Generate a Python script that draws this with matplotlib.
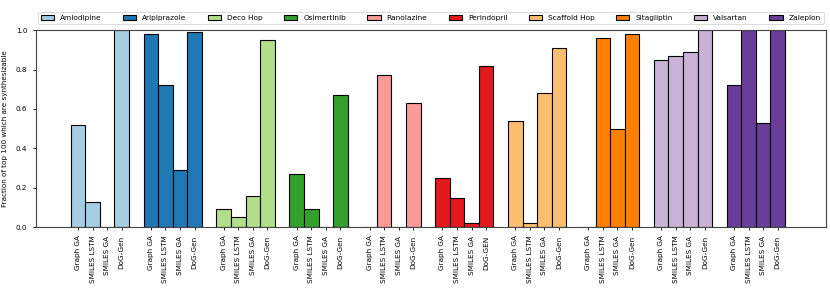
import matplotlib
matplotlib.use("Agg")
import matplotlib.pyplot as plt
import numpy as np

targets = ["Amlodipine", "Aripiprazole", "Deco Hop", "Osimertinib", "Ranolazine",
           "Perindopril", "Scaffold Hop", "Sitagliptin", "Valsartan", "Zaleplon"]
methods = ["Graph GA", "SMILES LSTM", "SMILES GA", "DoG-Gen"]
# Perindopril's last label is spelled differently in the original
tick_names = [methods[:3] + ["DoG-GEN"] if t == "Perindopril" else methods for t in targets]

values = [
    [0.52, 0.13, 0.00, 1.00],
    [0.98, 0.72, 0.29, 0.99],
    [0.09, 0.05, 0.16, 0.95],
    [0.27, 0.09, 0.00, 0.67],
    [0.00, 0.77, 0.00, 0.63],
    [0.25, 0.15, 0.02, 0.82],
    [0.54, 0.02, 0.68, 0.91],
    [0.00, 0.96, 0.50, 0.98],
    [0.85, 0.87, 0.89, 1.00],
    [0.72, 1.00, 0.53, 1.00],
]

colors = plt.get_cmap("Paired").colors

fig = plt.figure(figsize=(8.3, 2.95), dpi=100)
ax = fig.add_axes([0.043, 0.23, 0.952, 0.668])

xticks = []
xlabels = []
for i, (name, vals) in enumerate(zip(targets, values)):
    x = i * 5 + np.arange(len(vals))
    ax.bar(x, vals, width=1.0, color=colors[i], edgecolor="black",
           linewidth=0.8, label=name)
    xticks.extend(x)
    xlabels.extend(tick_names[i])

ax.set_xticks(xticks)
ax.set_xticklabels(xlabels, rotation=90, fontsize=5.2)
ax.tick_params(axis="both", labelsize=5.2, width=0.6, length=2.5)
ax.set_xlim(-2.9, 51.3)
ax.set_ylim(0, 1.0)
ax.set_ylabel("Fraction of top 100 which are synthesizable", fontsize=5.2, labelpad=6)
for s in ax.spines.values():
    s.set_linewidth(0.8)
    s.set_color("#444444")

leg = ax.legend(ncol=10, loc="lower left", bbox_to_anchor=(0, 1.02, 1, 0.1),
                mode="expand", fontsize=5.3, borderaxespad=0.3, handlelength=1.8)
leg.get_frame().set_linewidth(0.6)

fig.savefig("out.png", dpi=100)
